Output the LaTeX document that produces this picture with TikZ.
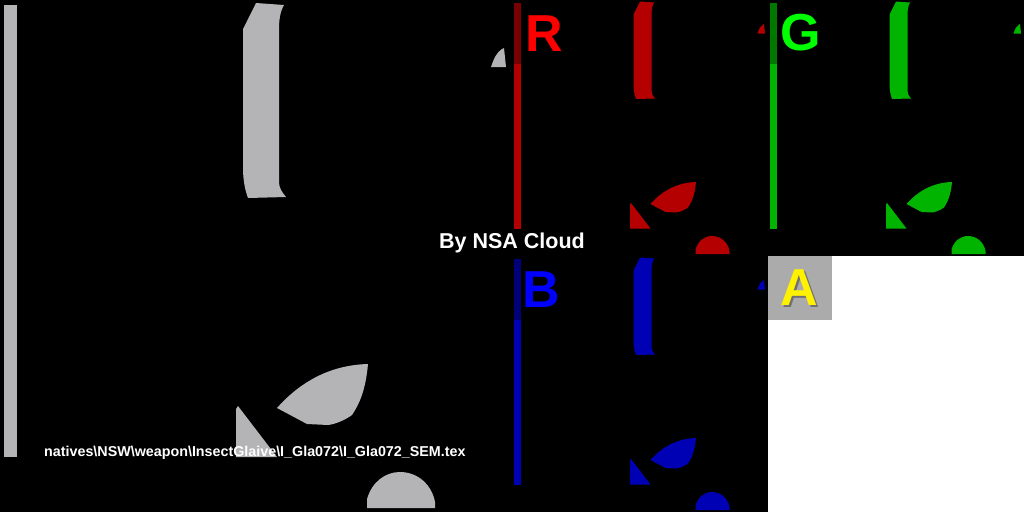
\documentclass[tikz,border=0pt]{standalone}
\usepackage{fontspec}
\setmainfont{Liberation Sans}
\definecolor{texgrey}{HTML}{B4B3B5}
\definecolor{chanR}{HTML}{B40000}
\definecolor{chanG}{HTML}{00B400}
\definecolor{chanB}{HTML}{0000B5}
\newcommand\glaiveshapes[1]{%
  \fill[#1] (4,5) rectangle (17,457);
  \fill[#1] (256,3) -- (284,5) .. controls (280,12) and (279,20) .. (279,30)
    -- (279,182) .. controls (279,188) and (282,192) .. (286,197)
    -- (248,198) .. controls (245,190) and (243,180) .. (243,168)
    -- (243,29) -- cycle;
  \fill[#1] (491,67) .. controls (494,58) and (497,52) .. (502,49) -- (504,48) -- (506,67) -- cycle;
  \fill[#1] (277,408) .. controls (300,382) and (330,365) .. (368,364)
    .. controls (366,385) and (362,400) .. (352,415)
    .. controls (345,420) and (336,424) .. (328,425)
    -- (307,424) -- cycle;
  \fill[#1] (236,409) -- (238,406) -- (277,457) -- (236,457) -- cycle;
  \fill[#1] (367,508) -- (367,499) .. controls (372,482) and (385,472) .. (400,472)
    .. controls (418,472) and (432,485) .. (435,502) -- (435,508) -- cycle;
}
\tikzset{
  chanlabel/.style={inner sep=0pt, font=\fontsize{52}{52}\selectfont\bfseries},
  labelbox/.style={fill=black, fill opacity=0.33},
  caption/.style={inner sep=0pt, text=white, font=\bfseries}
}
\begin{document}
\begin{tikzpicture}[x=1pt, y=-1pt]
\useasboundingbox (0,0) rectangle (1024,512);
\fill[black] (0,0) rectangle (1024,512);
\fill[white] (768,256) rectangle (1024,512);
% main texture
\glaiveshapes{texgrey}
% channel thumbnails
\begin{scope}[shift={(512,0)}, scale=0.5]
  \glaiveshapes{chanR}
\end{scope}
\begin{scope}[shift={(768,0)}, scale=0.5]
  \glaiveshapes{chanG}
\end{scope}
\begin{scope}[shift={(512,256)}, scale=0.5]
  \glaiveshapes{chanB}
\end{scope}
% label boxes
\fill[labelbox] (512,0) rectangle (576,64);
\fill[labelbox] (768,0) rectangle (832,64);
\fill[labelbox] (512,256) rectangle (576,320);
\fill[labelbox] (768,256) rectangle (832,320);
% labels
\node[chanlabel, text=red] (lr) at (544.5,33.5) {R};
\node[chanlabel, text={rgb,255:red,0;green,255;blue,0}] (lg) at (800.5,33) {G};
\node[chanlabel, text=blue] (lb) at (541,289.5) {B};
\node[chanlabel, text=black!65, opacity=0.7] (las) at (801.5,289.5) {A};
\node[chanlabel, text=yellow] (la) at (799.5,287.5) {A};
% captions
\node[caption, font=\fontsize{21.5}{22}\selectfont\bfseries] (by) at (512,243) {By NSA Cloud};
\node[caption, anchor=base west, font=\fontsize{14.3}{15}\selectfont\bfseries] (path) at (44,456)
  {natives\textbackslash NSW\textbackslash weapon\textbackslash InsectGlaive\textbackslash I\_Gla072\textbackslash I\_Gla072\_SEM.tex};
\end{tikzpicture}
\end{document}
